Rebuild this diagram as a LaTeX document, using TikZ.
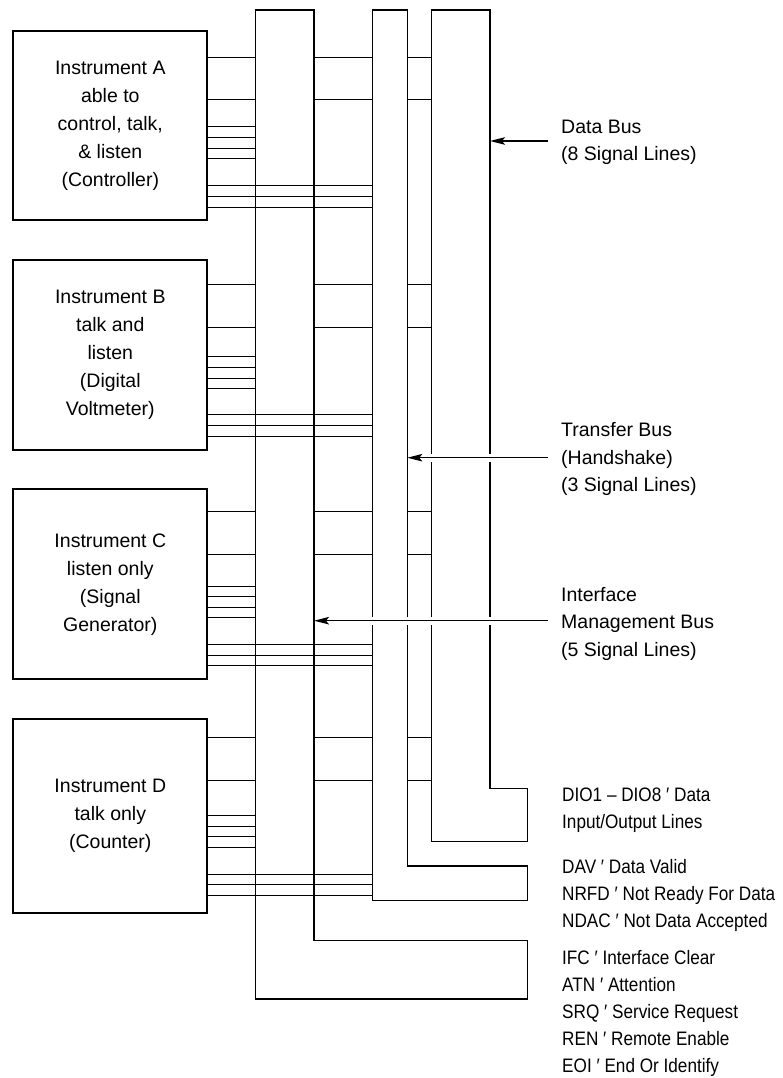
\documentclass[tikz,border=0pt]{standalone}
\usepackage{fontspec}
\setmainfont{Liberation Sans}
\newfontfamily\narrowfont{Liberation Sans}[FakeStretch=0.88]
\usetikzlibrary{arrows.meta}
\begin{document}
\begin{tikzpicture}[x=1pt,y=-1pt,
 inst/.style={draw, line width=2pt, minimum width=194pt, inner sep=0pt, align=center, font=\fontsize{19.5}{28}\selectfont},
 bus/.style={draw, line width=1.1pt, line join=miter},
 sig/.style={line width=1pt},
 lbl/.style={anchor=west, inner sep=0pt, align=left, font=\fontsize{19.5}{27.6}\selectfont},
 leg/.style={anchor=west, inner sep=0pt, align=left, font=\narrowfont\fontsize{19.5}{27}\selectfont},
 arr/.style={line width=1.4pt, -{Stealth[length=15pt,width=7.5pt,inset=3pt]}},
 gap/.style={draw=white, line width=8pt}]
\useasboundingbox (0,0) rectangle (783,1078);

% instruments
\node[inst, minimum height=189pt] (A) at (110.3,125.5) {Instrument A\\able to\\control, talk,\\\& listen\\(Controller)};
\node[inst, minimum height=190pt] (B) at (110.3,355) {Instrument B\\talk and\\listen\\(Digital\\Voltmeter)};
\node[inst, minimum height=190pt] (C) at (110.3,584.3) {Instrument C\\listen only\\(Signal\\Generator)};
\node[inst, minimum height=194pt] (D) at (110.3,815.7) {Instrument D\\talk only\\(Counter)};

% bus edges
\coordinate (imL) at (255.3,10);
\coordinate (imR) at (314,10);
\coordinate (trL) at (372.7,10);
\coordinate (trR) at (407.3,10);
\coordinate (dbL) at (431.7,10);
\coordinate (dbR) at (490,10);
\coordinate (busE) at (527.7,10);

% buses
\draw[bus] (dbL) -- (dbR) -- (dbR |- 0,788.7) -- (busE |- 0,788.7) -- (busE |- 0,841.7) -- (dbL |- 0,841.7) -- cycle;
\draw[bus] (trL) -- (trR) -- (trR |- 0,866) -- (busE |- 0,866) -- (busE |- 0,900.7) -- (trL |- 0,900.7) -- cycle;
\draw[bus] (imL) -- (imR) -- (imR |- 0,940.7) -- (busE |- 0,940.7) -- (busE |- 0,999) -- (imL |- 0,999) -- cycle;

% signal lines
\foreach \n/\da/\db/\sa/\sb/\sc/\sd/\la/\lb/\lc in {
  A/57.3/100/126.7/137.3/148.3/159/185.7/196.7/207.3,
  B/284.3/327/356.7/367.3/378/388.7/414.7/425.3/436.3,
  C/511.3/554/586/596.7/607.3/617.7/644.3/655/665.7,
  D/737.7/780.7/815.7/826/836.7/847/874/884.7/895.7}{
  \foreach \y in {\da,\db}{
    \draw[sig] (\n.east |- 0,\y) -- (imL |- 0,\y);
    \draw[sig] (imR |- 0,\y) -- (trL |- 0,\y);
    \draw[sig] (trR |- 0,\y) -- (dbL |- 0,\y);
  }
  \foreach \y in {\sa,\sb,\sc,\sd}{
    \draw[sig] (\n.east |- 0,\y) -- (imL |- 0,\y);
  }
  \foreach \y in {\la,\lb,\lc}{
    \draw[sig] (\n.east |- 0,\y) -- (trL |- 0,\y);
  }
}

% labels
\node[lbl] (dbl) at (561,142.2) {Data Bus\\(8 Signal Lines)};
\node[lbl] (trl) at (561,459.3) {Transfer Bus\\(Handshake)\\(3 Signal Lines)};
\node[lbl] (iml) at (561,623.9) {Interface\\Management Bus\\(5 Signal Lines)};

% arrows
\coordinate (dbT) at (547.5,141);
\coordinate (trT) at (547.5,457.7);
\coordinate (imT) at (547.5,620.7);
\draw[arr] (dbT) -- (dbT -| dbR);
\draw[gap] (trT) -- ([xshift=10pt]trT -| trR);
\draw[arr] (trT) -- (trT -| trR);
\draw[gap] (imT) -- ([xshift=10pt]imT -| imR);
\draw[arr] (imT) -- (imT -| imR);

% legend
\node[leg] (lg1) at (562,810) {DIO1 – DIO8 ′ Data\\Input/Output Lines};
\node[leg] (lg2) at (562,895) {DAV ′ Data Valid\\NRFD ′ Not Ready For Data\\NDAC ′ Not Data Accepted};
\node[leg] (lg3) at (562,1013.3) {IFC ′ Interface Clear\\ATN ′ Attention\\SRQ ′ Service Request\\REN ′ Remote Enable\\EOI ′ End Or Identify};
\end{tikzpicture}
\end{document}
